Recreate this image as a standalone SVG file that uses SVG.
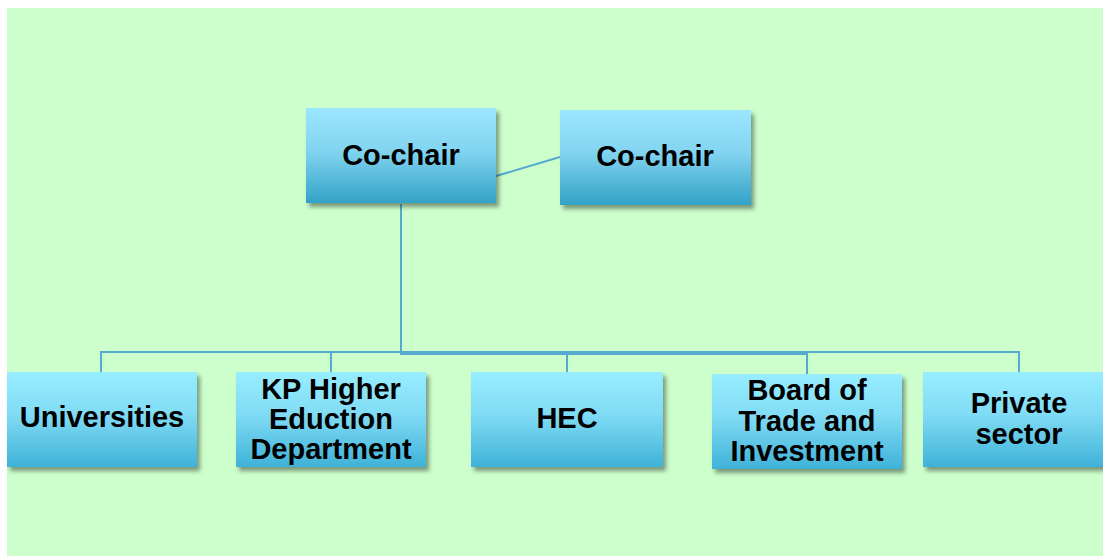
<svg xmlns="http://www.w3.org/2000/svg" width="1103" height="556" viewBox="0 0 1103 556">
  <defs>
    <linearGradient id="gTop" x1="0" y1="0" x2="0" y2="1">
      <stop offset="0" stop-color="#9CE6FF"/>
      <stop offset="0.45" stop-color="#82D4F0"/>
      <stop offset="1" stop-color="#32A2C6"/>
    </linearGradient>
    <linearGradient id="gBottom" x1="0" y1="0" x2="0" y2="1">
      <stop offset="0" stop-color="#98EEFF"/>
      <stop offset="0.45" stop-color="#80DBF4"/>
      <stop offset="1" stop-color="#3FB2D8"/>
    </linearGradient>
    <filter id="shadow" x="-10%" y="-10%" width="125%" height="130%">
      <feDropShadow dx="3" dy="4" stdDeviation="2" flood-color="#000" flood-opacity="0.4"/>
    </filter>
  </defs>
  <style>
    .box-top { fill: url(#gTop); filter: url(#shadow); }
    .box-bottom { fill: url(#gBottom); filter: url(#shadow); }
    .label { font-family: "Liberation Sans", Arial, sans-serif; font-weight: bold; font-size: 29px; fill: #000; text-anchor: middle; }
    .link { fill: none; stroke: #56AACD; stroke-width: 2; }
  </style>

  <!-- page background -->
  <rect x="0" y="0" width="1103" height="556" fill="#FFFFFF"/>
  <rect x="7" y="8" width="1096" height="548" fill="#CCFFCC"/>

  <!-- connectors -->
  <g id="connectors">
    <line class="link" x1="496" y1="176" x2="560" y2="157"/>
    <polyline class="link" points="401,204 401,352 101,352 101,372"/>
    <polyline class="link" points="401,204 401,352 331,352 331,372"/>
    <polyline class="link" points="401,204 401,354 567,354 567,372"/>
    <polyline class="link" points="401,204 401,354 807,354 807,374"/>
    <polyline class="link" points="401,204 401,352 1019,352 1019,372"/>
  </g>

  <!-- top level -->
  <g id="cochair-1">
    <rect class="box-top" x="306" y="108" width="190" height="95"/>
    <text class="label" x="401" y="165">Co-chair</text>
  </g>
  <g id="cochair-2">
    <rect class="box-top" x="560" y="110" width="191" height="95"/>
    <text class="label" x="655" y="166">Co-chair</text>
  </g>

  <!-- member bodies -->
  <g id="universities">
    <rect class="box-bottom" x="7" y="372" width="190" height="95"/>
    <text class="label" x="102" y="427">Universities</text>
  </g>
  <g id="kp-hed">
    <rect class="box-bottom" x="236" y="372" width="190" height="95"/>
    <text class="label" x="331" y="399">KP Higher</text>
    <text class="label" x="331" y="429">Eduction</text>
    <text class="label" x="331" y="459">Department</text>
  </g>
  <g id="hec">
    <rect class="box-bottom" x="471" y="372" width="192" height="95"/>
    <text class="label" x="567" y="428">HEC</text>
  </g>
  <g id="boti">
    <rect class="box-bottom" x="712" y="374" width="190" height="95"/>
    <text class="label" x="807" y="400">Board of</text>
    <text class="label" x="807" y="431">Trade and</text>
    <text class="label" x="807" y="461">Investment</text>
  </g>
  <g id="private-sector">
    <rect class="box-bottom" x="923" y="372" width="192" height="95"/>
    <text class="label" x="1019" y="413">Private</text>
    <text class="label" x="1019" y="444">sector</text>
  </g>
</svg>
